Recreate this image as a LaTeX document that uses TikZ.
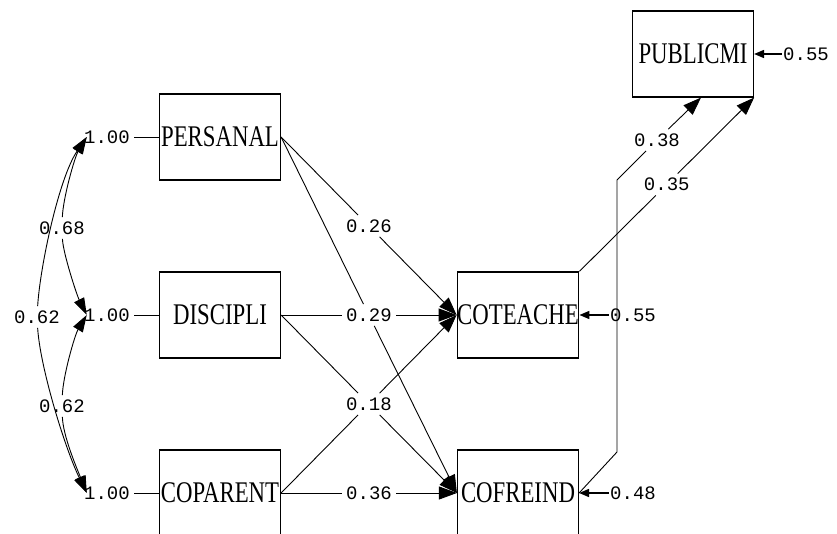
\documentclass[tikz,border=0pt]{standalone}
\usepackage{fontspec}
\setmainfont{Liberation Serif}
\setmonofont{Liberation Mono}
\newfontfamily\boxfont[FakeStretch=0.76]{Liberation Serif}
\usetikzlibrary{arrows.meta, calc}

\begin{document}
\begin{tikzpicture}[x=1pt, y=-1pt, node distance=178pt, line width=0.9pt,
    main/.style={rectangle, draw, line width=1.2pt, minimum width=121pt, minimum height=86pt, inner sep=0pt, font=\boxfont\fontsize{30}{30}\selectfont},
    num/.style={inner sep=4pt, font=\ttfamily\fontsize{19}{19}\selectfont},
    effect/.style={-{Triangle[length=18pt,width=13pt]}},
    cov/.style={-{Triangle[length=17pt,width=11pt]}},
    res/.style={line width=1.6pt, -{Triangle[length=10pt,width=8pt]}}]
        \useasboundingbox (0,0) rectangle (837,534);
        % observed variables
        \node[main] (PE) at (220,137) {PERSANAL};
        \node[main] (DI) [below of=PE] {DISCIPLI};
        \node[main] (CP) [below of=DI] {COPARENT};
        \node[main] (CT) [right of=DI, node distance=298pt] {COTEACHE};
        \node[main] (CF) [right of=CP, node distance=298pt] {COFREIND};
        \node[main] (PU) at (693,54) {PUBLICMI};
        % variances
        \node[num] (v1) [left of=PE, node distance=113pt] {1.00};
        \node[num] (v2) [left of=DI, node distance=113pt] {1.00};
        \node[num] (v3) [left of=CP, node distance=113pt] {1.00};
        \draw (v1) -- (PE);
        \draw (v2) -- (DI);
        \draw (v3) -- (CP);
        \coordinate (c1) at ([xshift=7pt]v1.west);
        \coordinate (c2) at ([xshift=7pt]v2.west);
        \coordinate (c3) at ([xshift=7pt]v3.west);
        % covariances
        \node[num] (k12) at (62,228) {0.68};
        \node[num] (k23) at (62,406) {0.62};
        \node[num] (k13) at (37,317) {0.62};
        \draw[cov] (k12) .. controls +(1,-30) and +(-12,20) .. (c1);
        \draw[cov] (k12) .. controls +(1,25) and +(-10,-20) .. (c2);
        \draw[cov] (k23) .. controls +(1,-30) and +(-12,20) .. (c2);
        \draw[cov] (k23) .. controls +(1,30) and +(-10,-25) .. (c3);
        \draw[cov] (k13) .. controls +(3,-50) and +(-28,41) .. (c1);
        \draw[cov] (k13) .. controls +(3,50) and +(-22,-45) .. (c3);
        % paths to COTEACHE and COFREIND
        \node[num] (l1) at ($(PE.east)!0.5!(CT.west)$) {0.26};
        \node[num] (l2) at ($(DI.east)!0.5!(CT.west)$) {0.29};
        \node[num] (l3) at ($(CP.east)!0.5!(CT.west)$) {0.18};
        \node[num] (l4) at ($(CP.east)!0.5!(CF.west)$) {0.36};
        \draw (PE.east) -- (l1);
        \draw[effect] (l1) -- (CT.west);
        \draw (PE.east) -- (l2);
        \draw[effect] (l2) -- (CF.west);
        \draw (DI.east) -- (l2);
        \draw[effect] (l2) -- (CT.west);
        \draw (DI.east) -- (l3);
        \draw[effect] (l3) -- (CF.west);
        \draw (CP.east) -- (l3);
        \draw[effect] (l3) -- (CT.west);
        \draw (CP.east) -- (l4);
        \draw[effect] (l4) -- (CF.west);
        % paths to PUBLICMI
        \node[num] (l5) at ($(CT.north east)!0.5!(PU.south east)$) {0.35};
        \draw (CT.north east) -- (l5);
        \draw[effect] (l5) -- (PU.south east);
        \coordinate (b1) at (617,452);
        \coordinate (b2) at (617,180);
        \node[num] (l6) at (657,140) {0.38};
        \draw (CF.east) -- (b1) -- (b2) -- (l6);
        \draw[effect] (l6) -- ([xshift=8pt]PU.south);
        % error variances
        \node[num, inner sep=1pt] (e1) [right of=PU, node distance=113pt] {0.55};
        \node[num, inner sep=1pt] (e2) [right of=CT, node distance=115pt] {0.55};
        \node[num, inner sep=1pt] (e3) [right of=CF, node distance=115pt] {0.48};
        \draw[res] (e1) -- (PU);
        \draw[res] (e2) -- (CT);
        \draw[res] (e3) -- (CF);
    \end{tikzpicture}
\end{document}
